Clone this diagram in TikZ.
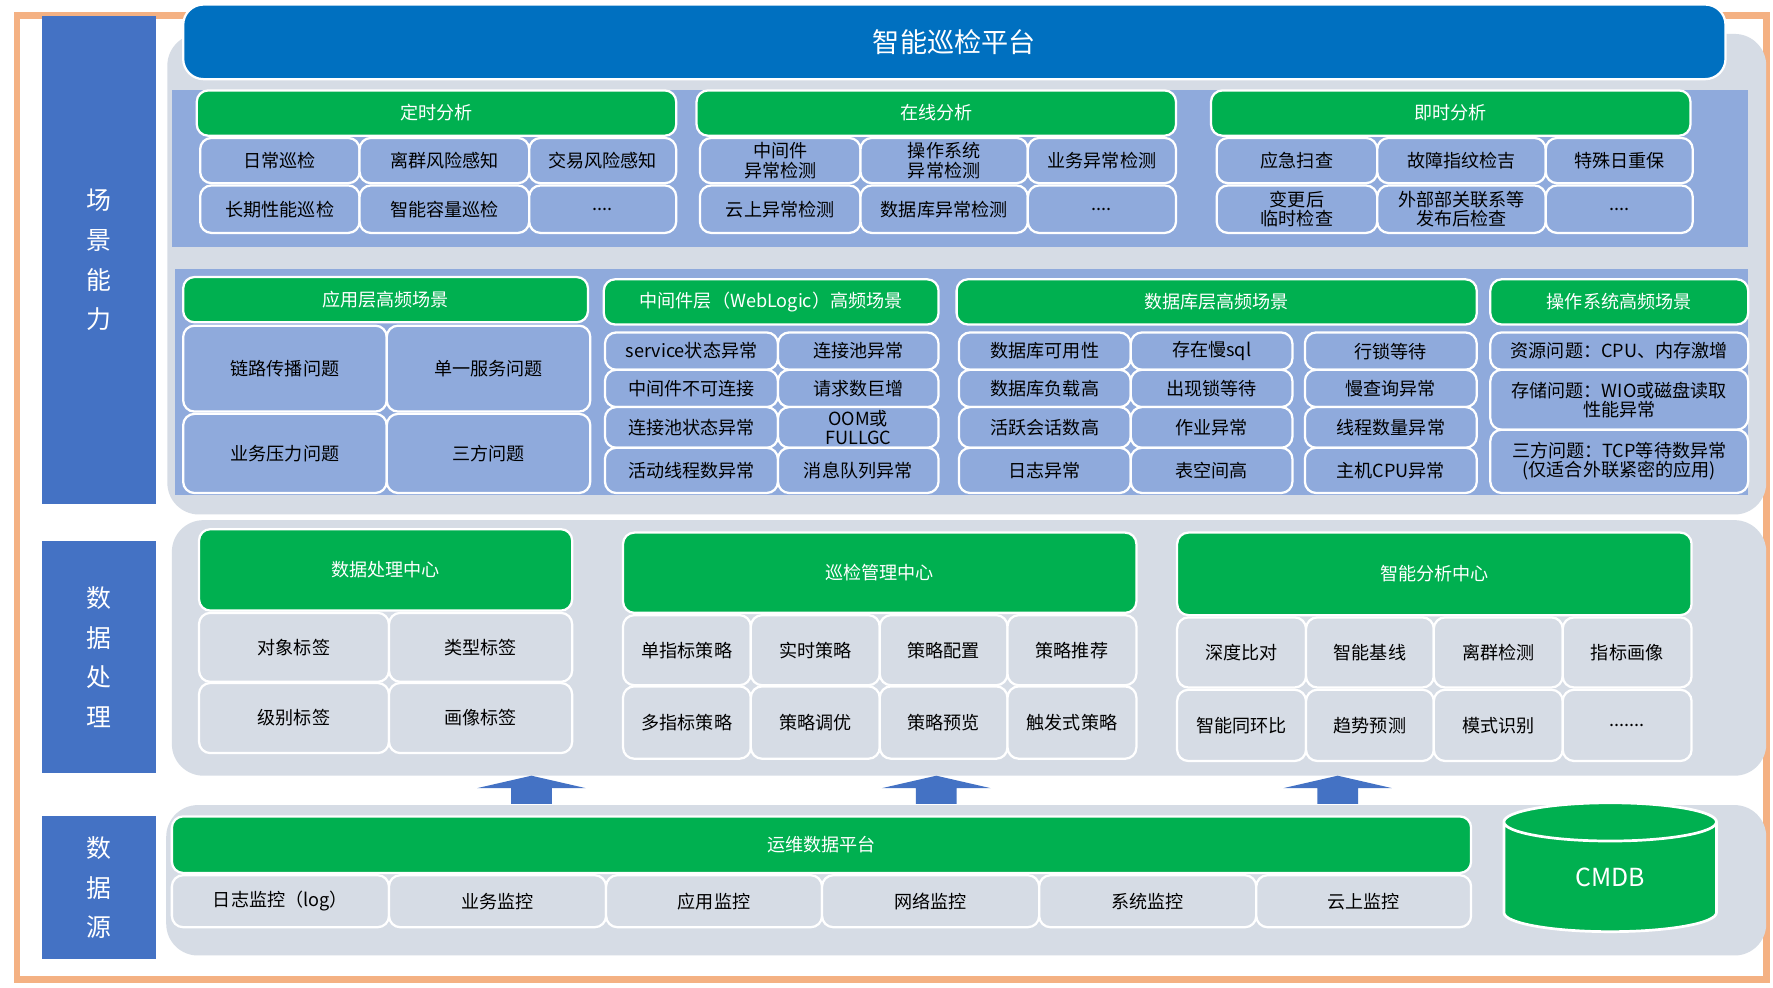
\documentclass[tikz,border=0pt]{standalone}
\usepackage{fontspec}
\setmainfont{Noto Sans CJK SC}
\usetikzlibrary{shapes.geometric}
\definecolor{frameorange}{HTML}{F4B183}
\definecolor{barblue}{HTML}{4472C4}
\definecolor{titleblue}{HTML}{0070C0}
\definecolor{panelgrey}{HTML}{D6DCE5}
\definecolor{bandblue}{HTML}{8FAADC}
\definecolor{hdgreen}{HTML}{00B050}
\tikzset{
box/.style={
  rectangle,
  rounded corners=5pt,
  draw=white,
  line width=1pt,
  inner sep=0pt,
  outer sep=0pt,
  align=center,
  font=\fontsize{8}{8.5}\selectfont,
  },
cell/.style={box, fill=bandblue},
gcell/.style={box, fill=panelgrey},
head/.style={box, fill=hdgreen, text=white},
side/.style={rectangle, fill=barblue, text=white, inner sep=0pt, align=center,
  font=\fontsize{11}{17.5}\selectfont},
panel/.style={fill=panelgrey, rounded corners=14pt},
uparrow/.style={fill=barblue}
}
\newcommand\bx[7][]{\node[#1, minimum width={(#5-#3)*0.5pt}, minimum height={(#6-#4)*0.5pt}] (#2) at ({(#3+#5)/2},{(#4+#6)/2}) {#7};}

\begin{document}
\begin{tikzpicture}[x=0.5pt,y=-0.5pt]
    \useasboundingbox (0,0) rectangle (1568,873);
    \fill[white] (0,0) rectangle (1568,873);
    \draw[frameorange, line width=3pt] (15,14) rectangle (1562,866);
    % side bars
    \bx[side]{scene}{37}{14}{138}{446}{场\\景\\能\\力}
    \bx[side]{proc}{37}{478}{138}{684}{数\\据\\处\\理}
    \bx[side]{src}{37}{722}{138}{848}{数\\据\\源}
    % grey panels
    \path[panel] (148,30) rectangle (1562,455);
    \path[panel] (152,460) rectangle (1562,686);
    \path[panel] (147,712) rectangle (1562,845);
    \fill[bandblue] (152,80) rectangle (1546,218);
    \fill[bandblue] (155,238) rectangle (1546,438);
    \bx[box, fill=titleblue, text=white, rounded corners=9pt, font=\fontsize{12}{13}\selectfont]{title}{162}{4}{1526}{70}{智能巡检平台}
    % row 1
    \bx[head]{timed}{174}{80}{598}{120}{定时分析}
    \bx[cell]{t11}{177}{122}{318}{162}{日常巡检}
    \bx[cell]{t12}{318}{122}{468}{162}{离群风险感知}
    \bx[cell]{t13}{468}{122}{598}{162}{交易风险感知}
    \bx[cell]{t21}{177}{164}{318}{206}{长期性能巡检}
    \bx[cell]{t22}{318}{164}{468}{206}{智能容量巡检}
    \bx[cell]{t23}{468}{164}{598}{206}{....}
    \bx[head]{online}{616}{80}{1040}{120}{在线分析}
    \bx[cell]{o11}{619}{122}{761}{162}{中间件\\异常检测}
    \bx[cell]{o12}{761}{122}{909}{162}{操作系统\\异常检测}
    \bx[cell]{o13}{909}{122}{1040}{162}{业务异常检测}
    \bx[cell]{o21}{619}{164}{761}{206}{云上异常检测}
    \bx[cell]{o22}{761}{164}{909}{206}{数据库异常检测}
    \bx[cell]{o23}{909}{164}{1040}{206}{....}
    \bx[head]{instant}{1071}{80}{1495}{120}{即时分析}
    \bx[cell]{i11}{1076}{122}{1218}{162}{应急扫查}
    \bx[cell]{i12}{1218}{122}{1367}{162}{故障指纹检吉}
    \bx[cell]{i13}{1367}{122}{1497}{162}{特殊日重保}
    \bx[cell]{i21}{1076}{164}{1218}{206}{变更后\\临时检查}
    \bx[cell]{i22}{1218}{164}{1367}{206}{外部部关联系等\\发布后检查}
    \bx[cell]{i23}{1367}{164}{1497}{206}{....}
    % row 2
    \bx[head]{app}{162}{245}{520}{285}{应用层高频场景}
    \bx[cell]{a11}{162}{288}{342}{364}{链路传播问题}
    \bx[cell]{a12}{342}{288}{522}{364}{单一服务问题}
    \bx[cell]{a21}{162}{366}{342}{436}{业务压力问题}
    \bx[cell]{a22}{342}{366}{522}{436}{三方问题}
    \bx[head]{mid}{534}{247}{830}{287}{中间件层（WebLogic）高频场景}
    \bx[cell]{m11}{535}{294}{688}{327}{service状态异常}
    \bx[cell]{m12}{688}{294}{830}{327}{连接池异常}
    \bx[cell]{m21}{535}{327}{688}{360}{中间件不可连接}
    \bx[cell]{m22}{688}{327}{830}{360}{请求数巨增}
    \bx[cell]{m31}{535}{360}{688}{396}{连接池状态异常}
    \bx[cell]{m32}{688}{360}{830}{396}{OOM或\\FULLGC}
    \bx[cell]{m41}{535}{396}{688}{436}{活动线程数异常}
    \bx[cell]{m42}{688}{396}{830}{436}{消息队列异常}
    \bx[head]{db}{846}{247}{1306}{287}{数据库层高频场景}
    \bx[cell]{d11}{848}{294}{1000}{327}{数据库可用性}
    \bx[cell]{d12}{1000}{294}{1143}{327}{存在慢sql}
    \bx[cell]{d13}{1154}{294}{1306}{327}{行锁等待}
    \bx[cell]{d21}{848}{327}{1000}{360}{数据库负载高}
    \bx[cell]{d22}{1000}{327}{1143}{360}{出现锁等待}
    \bx[cell]{d23}{1154}{327}{1306}{360}{慢查询异常}
    \bx[cell]{d31}{848}{360}{1000}{396}{活跃会话数高}
    \bx[cell]{d32}{1000}{360}{1143}{396}{作业异常}
    \bx[cell]{d33}{1154}{360}{1306}{396}{线程数量异常}
    \bx[cell]{d41}{848}{396}{1000}{436}{日志异常}
    \bx[cell]{d42}{1000}{396}{1143}{436}{表空间高}
    \bx[cell]{d43}{1154}{396}{1306}{436}{主机CPU异常}
    \bx[head]{os}{1318}{247}{1546}{287}{操作系统高频场景}
    \bx[cell]{s1}{1318}{294}{1546}{327}{资源问题：CPU、内存激增}
    \bx[cell]{s2}{1318}{327}{1546}{380}{存储问题：WIO或磁盘读取\\性能异常}
    \bx[cell]{s3}{1318}{380}{1546}{436}{三方问题：TCP等待数异常\\(仅适合外联紧密的应用)}
    % data processing
    \bx[head]{dpc}{176}{468}{506}{540}{数据处理中心}
    \bx[gcell]{p11}{176}{542}{344}{603}{对象标签}
    \bx[gcell]{p12}{344}{542}{506}{603}{类型标签}
    \bx[gcell]{p21}{176}{604}{344}{666}{级别标签}
    \bx[gcell]{p22}{344}{604}{506}{666}{画像标签}
    \bx[head]{imc}{551}{471}{1005}{542}{巡检管理中心}
    \bx[gcell]{g11}{551}{544}{664}{606}{单指标策略}
    \bx[gcell]{g12}{664}{544}{778}{606}{实时策略}
    \bx[gcell]{g13}{778}{544}{891}{606}{策略配置}
    \bx[gcell]{g14}{891}{544}{1005}{606}{策略推荐}
    \bx[gcell]{g21}{551}{607}{664}{671}{多指标策略}
    \bx[gcell]{g22}{664}{607}{778}{671}{策略调优}
    \bx[gcell]{g23}{778}{607}{891}{671}{策略预览}
    \bx[gcell]{g24}{891}{607}{1005}{671}{触发式策略}
    \bx[head]{iac}{1041}{471}{1496}{544}{智能分析中心}
    \bx[gcell]{c11}{1041}{546}{1155}{608}{深度比对}
    \bx[gcell]{c12}{1155}{546}{1268}{608}{智能基线}
    \bx[gcell]{c13}{1268}{546}{1382}{608}{离群检测}
    \bx[gcell]{c14}{1382}{546}{1496}{608}{指标画像}
    \bx[gcell]{c21}{1041}{610}{1155}{673}{智能同环比}
    \bx[gcell]{c22}{1155}{610}{1268}{673}{趋势预测}
    \bx[gcell]{c23}{1268}{610}{1382}{673}{模式识别}
    \bx[gcell]{c24}{1382}{610}{1496}{673}{.......}
    % arrows
    \foreach \ax in {470,828,1183}
      \fill[uparrow] (\ax-18,711) -- (\ax-18,697) -- (\ax-48,697) -- (\ax,686) -- (\ax+48,697) -- (\ax+18,697) -- (\ax+18,711) -- cycle;
    % data sources
    \bx[head]{ops}{152}{722}{1301}{772}{运维数据平台}
    \bx[gcell]{l1}{152}{774}{344}{820}{日志监控（log）}
    \bx[gcell]{l2}{344}{774}{536}{820}{业务监控}
    \bx[gcell]{l3}{536}{774}{727}{820}{应用监控}
    \bx[gcell]{l4}{727}{774}{919}{820}{网络监控}
    \bx[gcell]{l5}{919}{774}{1111}{820}{系统监控}
    \bx[gcell]{l6}{1111}{774}{1301}{820}{云上监控}
    \node[cylinder, shape border rotate=90, aspect=0.55, draw=white, line width=1.2pt,
      fill=hdgreen, text=white, minimum width=94pt, minimum height=57pt, inner sep=0pt,
      font=\fontsize{11}{12}\selectfont] (cmdb) at (1424,776) {CMDB};
\end{tikzpicture}
\end{document}
